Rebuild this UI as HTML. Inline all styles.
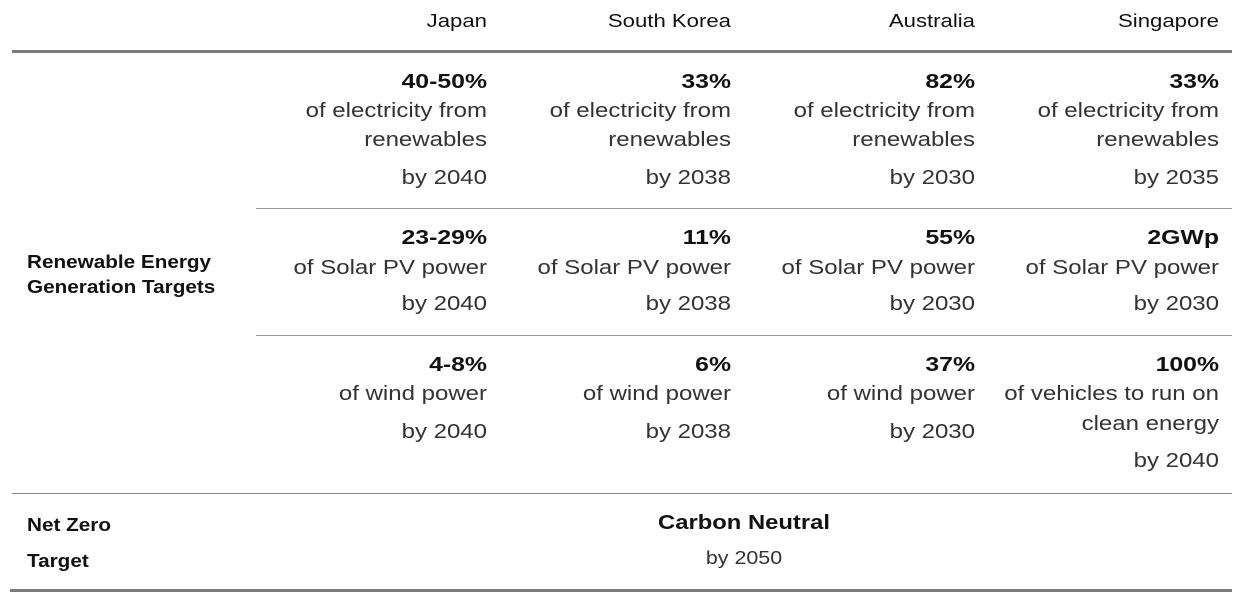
<!DOCTYPE html>
<html><head><style>
body{margin:0;width:1242px;height:602px;background:#fff;font-family:"Liberation Sans",Arial,sans-serif;color:#1e1e1e;position:relative;overflow:hidden}
.t{position:absolute;line-height:30px;height:30px;white-space:nowrap}
.r{text-align:right;width:300px;transform:scaleX(1.2);transform-origin:right center}
.n{font-size:20px;color:#333}
.b{font-size:20px;font-weight:bold;color:#111}
.r.b{transform:scaleX(1.24)}
.h{font-size:18px;color:#111}
.r.h{transform:scaleX(1.23)}
.l{font-size:18px;font-weight:bold;color:#111;transform:scaleX(1.15);transform-origin:left center}
.c{transform:scaleX(1.19);transform-origin:center center}
.line{position:absolute;background:#7a7a7a}
</style></head><body>
<div class="line" style="left:12px;top:50px;width:1220px;height:3px"></div>
<div class="line" style="left:256px;top:208px;width:976px;height:1px;background:#999"></div>
<div class="line" style="left:256px;top:335px;width:976px;height:1px;background:#999"></div>
<div class="line" style="left:12px;top:493px;width:1220px;height:1px;background:#888"></div>
<div class="line" style="left:10px;top:589px;width:1222px;height:3px"></div>

<div class="t r h" style="left:187px;top:6px">Japan</div>
<div class="t r h" style="left:431px;top:6px">South Korea</div>
<div class="t r h" style="left:675px;top:6px">Australia</div>
<div class="t r h" style="left:919px;top:6px">Singapore</div>

<div class="t r b" style="left:187px;top:67px">40-50%</div>
<div class="t r n" style="left:187px;top:96px">of electricity from</div>
<div class="t r n" style="left:187px;top:125px">renewables</div>
<div class="t r n" style="left:187px;top:163px">by 2040</div>
<div class="t r b" style="left:431px;top:67px">33%</div>
<div class="t r n" style="left:431px;top:96px">of electricity from</div>
<div class="t r n" style="left:431px;top:125px">renewables</div>
<div class="t r n" style="left:431px;top:163px">by 2038</div>
<div class="t r b" style="left:675px;top:67px">82%</div>
<div class="t r n" style="left:675px;top:96px">of electricity from</div>
<div class="t r n" style="left:675px;top:125px">renewables</div>
<div class="t r n" style="left:675px;top:163px">by 2030</div>
<div class="t r b" style="left:919px;top:67px">33%</div>
<div class="t r n" style="left:919px;top:96px">of electricity from</div>
<div class="t r n" style="left:919px;top:125px">renewables</div>
<div class="t r n" style="left:919px;top:163px">by 2035</div>

<div class="t r b" style="left:187px;top:223px">23-29%</div>
<div class="t r n" style="left:187px;top:253px">of Solar PV power</div>
<div class="t r n" style="left:187px;top:289px">by 2040</div>
<div class="t r b" style="left:431px;top:223px">11%</div>
<div class="t r n" style="left:431px;top:253px">of Solar PV power</div>
<div class="t r n" style="left:431px;top:289px">by 2038</div>
<div class="t r b" style="left:675px;top:223px">55%</div>
<div class="t r n" style="left:675px;top:253px">of Solar PV power</div>
<div class="t r n" style="left:675px;top:289px">by 2030</div>
<div class="t r b" style="left:919px;top:223px">2GWp</div>
<div class="t r n" style="left:919px;top:253px">of Solar PV power</div>
<div class="t r n" style="left:919px;top:289px">by 2030</div>

<div class="t r b" style="left:187px;top:350px">4-8%</div>
<div class="t r n" style="left:187px;top:379px">of wind power</div>
<div class="t r n" style="left:187px;top:417px">by 2040</div>
<div class="t r b" style="left:431px;top:350px">6%</div>
<div class="t r n" style="left:431px;top:379px">of wind power</div>
<div class="t r n" style="left:431px;top:417px">by 2038</div>
<div class="t r b" style="left:675px;top:350px">37%</div>
<div class="t r n" style="left:675px;top:379px">of wind power</div>
<div class="t r n" style="left:675px;top:417px">by 2030</div>
<div class="t r b" style="left:919px;top:350px">100%</div>
<div class="t r n" style="left:919px;top:379px">of vehicles to run on</div>
<div class="t r n" style="left:919px;top:409px">clean energy</div>
<div class="t r n" style="left:919px;top:446px">by 2040</div>

<div class="t l" style="left:27px;top:247px">Renewable Energy</div>
<div class="t l" style="left:27px;top:272px">Generation Targets</div>

<div class="t l" style="left:27px;top:510px">Net Zero</div>
<div class="t l" style="left:27px;top:546px">Target</div>
<div class="t b c" style="left:544px;width:400px;text-align:center;top:508px">Carbon Neutral</div>
<div class="t c" style="left:544px;width:400px;text-align:center;top:543px;font-size:18px;color:#333">by 2050</div>
</body></html>
